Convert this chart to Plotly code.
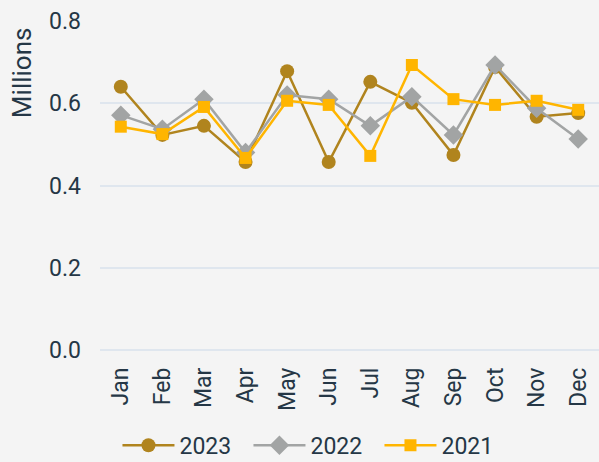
import plotly.graph_objects as go

months = ["Jan", "Feb", "Mar", "Apr", "May", "Jun", "Jul", "Aug", "Sep", "Oct", "Nov", "Dec"]
y2023 = [0.640, 0.523, 0.545, 0.457, 0.678, 0.457, 0.652, 0.601, 0.474, 0.688, 0.567, 0.576]
y2022 = [0.571, 0.537, 0.610, 0.480, 0.620, 0.610, 0.545, 0.616, 0.523, 0.693, 0.588, 0.513]
y2021 = [0.543, 0.525, 0.591, 0.467, 0.606, 0.596, 0.472, 0.693, 0.610, 0.596, 0.606, 0.584]

text_color = "#253746"
bg = "#f4f4f4"

fig = go.Figure()
fig.add_trace(go.Scatter(x=months, y=y2023, name="2023", mode="lines+markers",
                         line=dict(color="#b0841e", width=2.5),
                         marker=dict(symbol="circle", size=14)))
fig.add_trace(go.Scatter(x=months, y=y2022, name="2022", mode="lines+markers",
                         line=dict(color="#a2a4a4", width=2.5),
                         marker=dict(symbol="diamond", size=15)))
fig.add_trace(go.Scatter(x=months, y=y2021, name="2021", mode="lines+markers",
                         line=dict(color="#ffb500", width=2.5),
                         marker=dict(symbol="square", size=12)))

# y-axis title sits near the top, so draw it as a rotated annotation
fig.add_annotation(text="Millions", textangle=-90, xref="paper", yref="paper",
                   x=-0.156, y=0.842, xanchor="center", yanchor="middle",
                   showarrow=False, font=dict(size=26, color=text_color))

fig.update_layout(
    width=599, height=462,
    margin=dict(l=100, r=0, t=21, b=112),
    paper_bgcolor=bg, plot_bgcolor=bg,
    font=dict(family="Roboto, sans-serif", size=23, color=text_color),
    showlegend=True,
    legend=dict(orientation="h", x=0.035, xanchor="left",
                yref="container", y=0.036, yanchor="middle",
                font=dict(size=23), tracegroupgap=0, borderwidth=0,
                itemwidth=52, entrywidth=64, entrywidthmode="pixels"),
    xaxis=dict(tickangle=-90, showgrid=False, showline=False, ticks="",
               range=[-0.5, 11.5], ticklabelstandoff=12),
    yaxis=dict(range=[0, 0.8], tickvals=[0, 0.2, 0.4, 0.6, 0.8], tickformat=".1f",
               gridcolor="#dfe6ee", gridwidth=1.5, zeroline=True,
               zerolinecolor="#dfe6ee", zerolinewidth=2, showline=False, ticks="",
               ticklabelstandoff=18),
)

fig.write_html("out.html", config={"displayModeBar": False},
               post_script="document.body.style.margin='0';")
